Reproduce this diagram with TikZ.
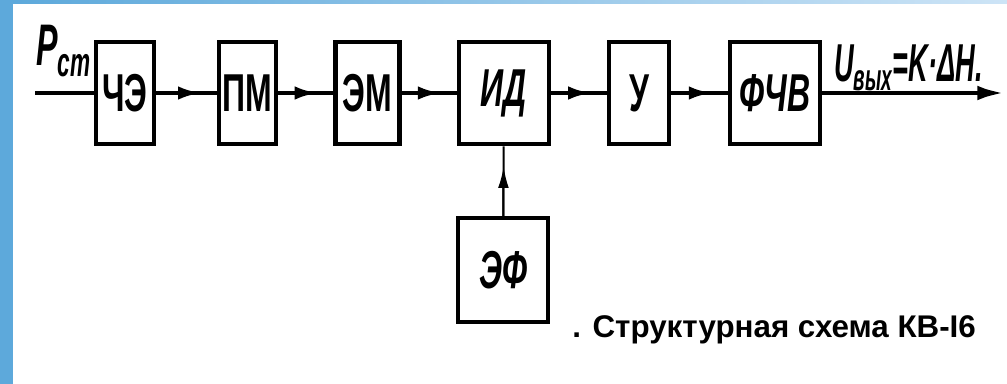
\documentclass[tikz,border=0pt]{standalone}
\usepackage{fontspec}
\setmainfont{Liberation Sans}
\usetikzlibrary{arrows.meta}
\definecolor{barblue}{RGB}{93,169,219}
\definecolor{barlight}{RGB}{205,228,246}
\newcommand{\blk}[1]{\scalebox{0.6}[1]{#1}}
\begin{document}
\begin{tikzpicture}[x=0.75pt, y=-0.75pt,
    block/.style={rectangle, draw, line width=3.2pt, minimum height=77pt, inner sep=0pt,
      font=\bfseries\fontsize{40}{40}\selectfont},
    wide/.style={block, minimum width=68pt},
    link/.style={line width=3.4pt,
      postaction={draw, shorten >=11pt, -{Latex[length=18pt,width=10pt]}}},
    feed/.style={line width=1.5pt,
      postaction={draw, shorten >=15pt, -{Latex[length=16pt,width=8pt]}}},
    sig/.style={font=\bfseries\itshape\fontsize{40}{40}\selectfont, inner sep=0pt}]
  % \draw [help lines] grid(3,2);
  \useasboundingbox (0,0) rectangle (1007,384);
  \fill[barblue] (0,0) rectangle (13,384);
  \shade[left color=barblue, right color=barlight] (13,0) rectangle (1007,4);
  \node[block, minimum width=44pt] (che) at (125,93) {\blk{ЧЭ}};
  \node[block, minimum width=43pt] (pm) at (247.5,93) {\blk{ПМ}};
  \node[block, minimum width=48pt] (em) at (367.5,93) {\blk{ЭМ}};
  \node[wide] (id) at (504,93) {\blk{\itshape ИД}};
  \node[block, minimum width=45pt] (u) at (639,93) {\blk{У}};
  \node[wide] (fchv) at (775,93) {\blk{\itshape ФЧВ}};
  \node[wide, minimum height=78pt] (ef) at (503,270) {\blk{\itshape ЭФ}};
  \coordinate (in) at (35,93);
  \coordinate (out) at (1004,93);
  \draw[line width=3.4pt] (in) -- (che);
  \draw[link] (che) -- (pm);
  \draw[link] (pm) -- (em);
  \draw[link] (em) -- (id);
  \draw[link] (id) -- (u);
  \draw[link] (u) -- (fchv);
  \draw[line width=3.4pt, -{Latex[length=20pt,width=11pt]}] (fchv) -- (out);
  \draw[feed] (ef) -- (id);
  \node[sig, anchor=base west, font=\bfseries\itshape\fontsize{44}{44}\selectfont] (pst) at (36,66)
    {\scalebox{0.55}[1]{P\textsubscript{ст}}};
  \node[sig, anchor=base west] (uout) at (834,82) {\scalebox{0.51}[1]{U\textsubscript{вых}=K·ΔH.}};
  \node[anchor=base west, inner sep=0pt, font=\bfseries\fontsize{23.5}{23.5}\selectfont] (title) at (572,338)
    {. Структурная схема КВ-I6};
\end{tikzpicture}
\end{document}
